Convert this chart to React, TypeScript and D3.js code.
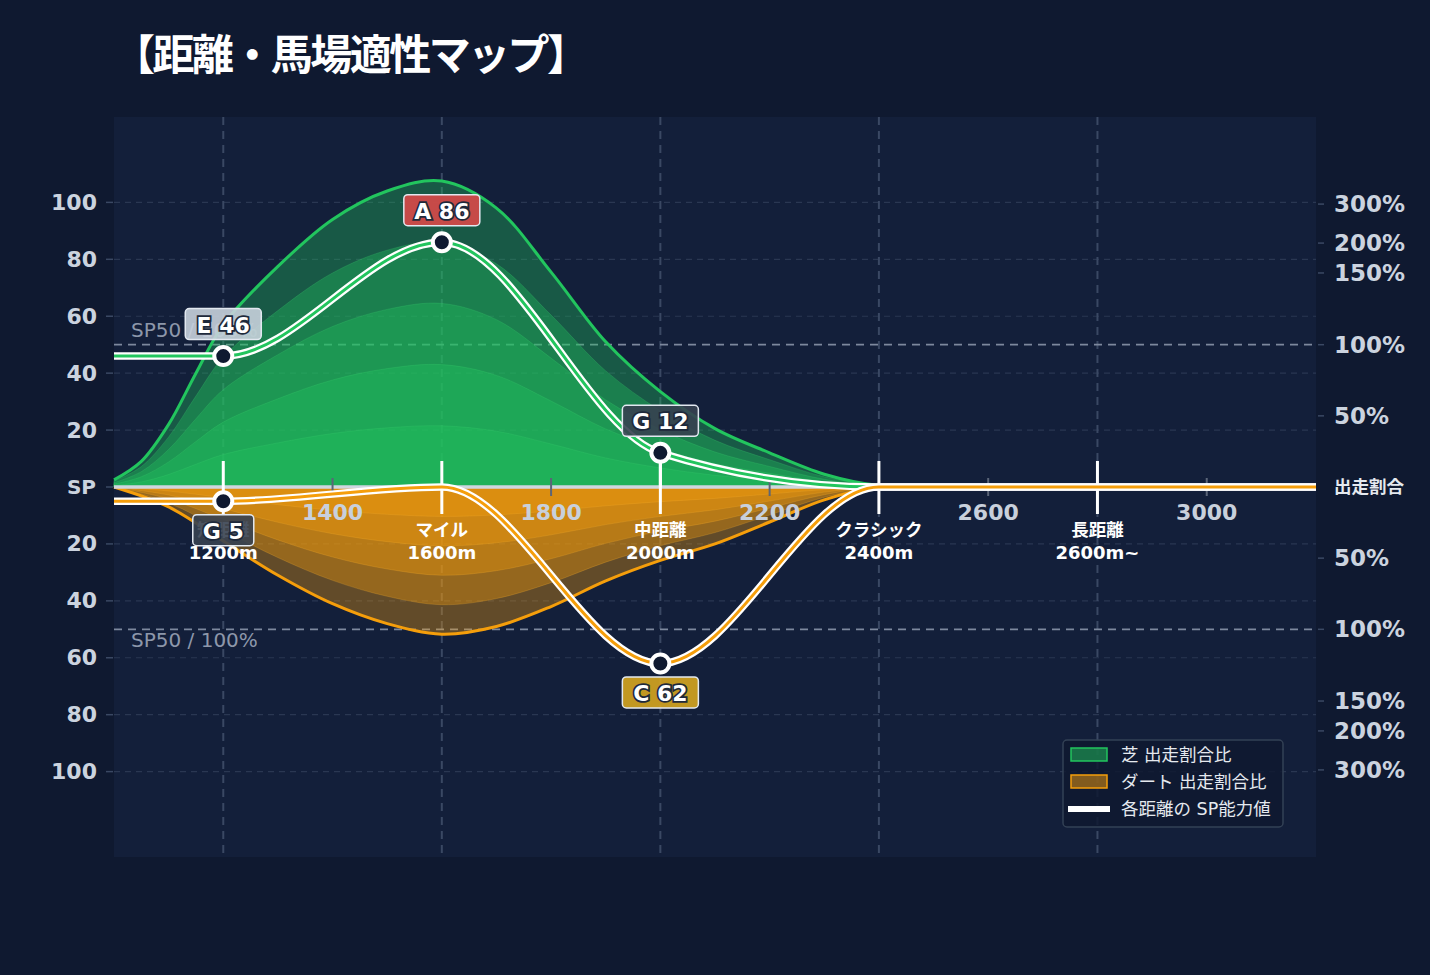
import * as d3 from 'd3';

// distance positions on the x scale (m) and readings of each curve
const turfDist = [1000, 1050, 1100, 1150, 1200, 1300, 1400, 1500, 1600, 1700, 1800, 1900, 2000, 2100, 2200, 2300, 2400, 2500, 3200];
const turfShare = [2.5, 9, 22, 40, 57, 77.5, 94, 104, 107.5, 98, 75.5, 51, 33.5, 20.5, 12, 4.5, 0.5, 0, 0];

const dirtDist = [1000, 1100, 1200, 1300, 1400, 1500, 1600, 1700, 1800, 1900, 2000, 2100, 2200, 2300, 2400, 2500, 3200];
const dirtShare = [0, 7, 19, 31, 41, 48, 51.7, 49, 42, 33, 25.8, 20, 12.3, 4.5, 0, 0, 0];

const spDist = [1000, 1200, 1600, 2000, 2400, 3200];
const turfSP = [46, 46, 86, 12, 0, 0];
const dirtSP = [5, 5, 0, 62, 0, 0];

const layerFractions = [1.0, 0.8, 0.6, 0.4, 0.2];

const categoryDist = [1200, 1600, 2000, 2400, 2800];
const categoryNames = ['短距離', 'マイル', '中距離', 'クラシック', '長距離'];
const categoryMeters = ['1200m', '1600m', '2000m', '2400m', '2600m~'];
const minorTicks = [1400, 1800, 2200, 2600, 3000];

const turfRanks = [
  { d: 1200, v: 46, rank: 'E' },
  { d: 1600, v: 86, rank: 'A' },
  { d: 2000, v: 12, rank: 'G' },
];
const dirtRanks = [
  { d: 1200, v: 5, rank: 'G' },
  { d: 2000, v: 62, rank: 'C' },
];

const spTicks = [20, 40, 60, 80, 100];
// share (%) -> SP units, the right axis is compressed above 100%
const pctDomain = [0, 50, 100, 150, 200, 300];
const pctRange = [0, 25, 50, 75.2, 85.7, 99.4];
const pctTicks = [50, 100, 150, 200, 300];

const rankColor: Record<string, string> = {
  A: '#d94848',
  C: '#d6a520',
  E: '#c8d0dc',
  G: '#374151',
};

const FONT = '"DejaVu Sans", "Noto Sans CJK JP", sans-serif';
const W = 1430;
const H = 975;
const margin = { top: 117, right: 114, bottom: 118, left: 114 };

export default function App() {
  const x = d3.scaleLinear().domain([1000, 3200]).range([margin.left, W - margin.right]);
  const y = d3.scaleLinear().domain([-130, 130]).range([H - margin.bottom, margin.top]);
  const pct = d3.scaleLinear().domain(pctDomain).range(pctRange);
  const y0 = y(0);
  const plotW = W - margin.left - margin.right;
  const plotH = H - margin.top - margin.bottom;

  // smooth share bands
  const area = d3
    .area<[number, number]>()
    .x((d) => x(d[0]))
    .y0(y0)
    .y1((d) => y(d[1]))
    .curve(d3.curveCatmullRom.alpha(0.5));
  const shareLine = d3
    .line<[number, number]>()
    .x((d) => x(d[0]))
    .y((d) => y(d[1]))
    .curve(d3.curveCatmullRom.alpha(0.5));
  const line = d3
    .line<[number, number]>()
    .x((d) => x(d[0]))
    .y((d) => y(d[1]))
    .curve(d3.curveMonotoneX);

  const turfPts = turfDist.map((d, i) => [d, turfShare[i]] as [number, number]);
  const dirtPts = dirtDist.map((d, i) => [d, -dirtShare[i]] as [number, number]);
  const turfSPPts = spDist.map((d, i) => [d, turfSP[i]] as [number, number]);
  const dirtSPPts = spDist.map((d, i) => [d, -dirtSP[i]] as [number, number]);

  const rankLabel = (r: { d: number; v: number; rank: string }, above: boolean, key: string) => {
    const cx = x(r.d);
    const cy = above ? y(r.v) - 32 : y(-r.v) + 29;
    const text = `${r.rank} ${r.v}`;
    const bw = text.length * 15 + 16;
    return (
      <g key={key}>
        <rect
          x={cx - bw / 2}
          y={cy - 15.5}
          width={bw}
          height={31}
          rx={4}
          fill={rankColor[r.rank]}
          fillOpacity={0.9}
          stroke="#e2e8f0"
          strokeWidth={1.5}
        />
        <text
          x={cx}
          y={cy + 1}
          textAnchor="middle"
          dominantBaseline="central"
          fontFamily={FONT}
          fontWeight="bold"
          fontSize={22}
          fill="#ffffff"
          stroke="#1e293b"
          strokeWidth={3.5}
          style={{ paintOrder: 'stroke' }}
        >
          {text}
        </text>
      </g>
    );
  };

  return (
    <svg
      width={W}
      height={H}
      style={{ position: 'absolute', left: 0, top: 0, display: 'block' }}
    >
      <rect width={W} height={H} fill="#0f1930" />
      <rect x={margin.left} y={margin.top} width={plotW} height={plotH} fill="#131f3a" />

      <text
        x={113}
        y={51}
        dominantBaseline="central"
        fontFamily='"Noto Sans CJK JP", sans-serif'
        fontWeight="bold"
        fontSize={42}
        textLength={476}
        lengthAdjust="spacing"
        fill="#ffffff"
      >
        【距離・馬場適性マップ】
      </text>

      {/* horizontal grid */}
      {spTicks.flatMap((t) => [t, -t]).map((t) => (
        <line
          key={`hg${t}`}
          x1={margin.left}
          x2={W - margin.right}
          y1={y(t)}
          y2={y(t)}
          stroke="#2a3752"
          strokeWidth={1.2}
          strokeDasharray="6 5"
        />
      ))}
      {/* vertical grid */}
      {categoryDist.map((d) => (
        <line
          key={`vg${d}`}
          x1={x(d)}
          x2={x(d)}
          y1={margin.top}
          y2={H - margin.bottom}
          stroke="#3a4863"
          strokeWidth={2}
          strokeDasharray="8 6"
        />
      ))}
      {/* SP50 lines */}
      {[50, -50].map((t) => (
        <line
          key={`sp${t}`}
          x1={margin.left}
          x2={W - margin.right}
          y1={y(t)}
          y2={y(t)}
          stroke="#7d889d"
          strokeWidth={1.8}
          strokeDasharray="8 6"
        />
      ))}
      {[50, -50].map((t) => (
        <text
          key={`spt${t}`}
          x={131}
          y={y(t) + (t > 0 ? -15 : 11)}
          dominantBaseline="central"
          fontFamily={FONT}
          fontSize={20}
          fill="#8d97aa"
        >
          SP50 / 100%
        </text>
      ))}

      {/* left axis */}
      {spTicks.flatMap((t) => [t, -t]).map((t) => (
        <g key={`la${t}`}>
          <line x1={106} x2={113} y1={y(t)} y2={y(t)} stroke="#3a4863" strokeWidth={1.5} />
          <text
            x={97}
            y={y(t)}
            textAnchor="end"
            dominantBaseline="central"
            fontFamily={FONT}
            fontWeight="bold"
            fontSize={22}
            fill="#cbd3df"
          >
            {Math.abs(t)}
          </text>
        </g>
      ))}
      <line x1={106} x2={113} y1={y0} y2={y0} stroke="#3a4863" strokeWidth={1.5} />
      <text
        x={96}
        y={y0}
        textAnchor="end"
        dominantBaseline="central"
        fontFamily={FONT}
        fontWeight="bold"
        fontSize={20}
        fill="#cbd3df"
      >
        SP
      </text>

      {/* right axis */}
      {pctTicks.flatMap((p) => [p, -p]).map((p) => {
        const yy = y(p > 0 ? pct(p) : -pct(-p));
        return (
          <g key={`ra${p}`}>
            <line x1={1318} x2={1324} y1={yy} y2={yy} stroke="#3a4863" strokeWidth={1.5} />
            <text
              x={1334}
              y={yy}
              dominantBaseline="central"
              fontFamily={FONT}
              fontWeight="bold"
              fontSize={23}
              fill="#cbd3df"
            >
              {`${Math.abs(p)}%`}
            </text>
          </g>
        );
      })}
      <text
        x={1334}
        y={y0}
        dominantBaseline="central"
        fontFamily={FONT}
        fontWeight="bold"
        fontSize={17.5}
        fill="#e5e9ef"
      >
        出走割合
      </text>

      {/* share layers */}
      {layerFractions.map((f) => (
        <path
          key={`dl${f}`}
          d={area(dirtPts.map(([d, v]) => [d, v * f] as [number, number])) || ''}
          fill="#f59e0b"
          fillOpacity={0.35}
          stroke="#f8b030"
          strokeOpacity={0.25}
          strokeWidth={1}
        />
      ))}
      {layerFractions.map((f) => (
        <path
          key={`tl${f}`}
          d={area(turfPts.map(([d, v]) => [d, v * f] as [number, number])) || ''}
          fill="#22c55e"
          fillOpacity={0.35}
          stroke="#3ad070"
          strokeOpacity={0.25}
          strokeWidth={1}
        />
      ))}
      <path d={shareLine(dirtPts) || ''} fill="none" stroke="#f59e0b" strokeWidth={3} />
      <path d={shareLine(turfPts) || ''} fill="none" stroke="#22c55e" strokeWidth={3} />

      {/* baseline */}
      <line x1={margin.left} x2={W - margin.right} y1={y0} y2={y0} stroke="#cfd6df" strokeWidth={3.5} />

      {/* minor distance ticks */}
      {minorTicks.map((d) => (
        <g key={`mt${d}`}>
          <line x1={x(d)} x2={x(d)} y1={y0 - 9} y2={y0 + 9} stroke="#5b6578" strokeWidth={2} />
          <text
            x={x(d)}
            y={y0 + 25}
            textAnchor="middle"
            dominantBaseline="central"
            fontFamily={FONT}
            fontWeight="bold"
            fontSize={22}
            fill="#c8d0dc"
          >
            {d}
          </text>
        </g>
      ))}

      {/* category ticks */}
      {categoryDist.map((d) => (
        <line key={`ct${d}`} x1={x(d)} x2={x(d)} y1={y0 - 26} y2={y0 + 27} stroke="#ffffff" strokeWidth={3} />
      ))}
      <line x1={x(2000)} x2={x(2000)} y1={y(12)} y2={y0} stroke="#ffffff" strokeWidth={3} />

      {/* SP lines */}
      <path d={line(turfSPPts) || ''} fill="none" stroke="#ffffff" strokeWidth={7.5} />
      <path d={line(turfSPPts) || ''} fill="none" stroke="#22c55e" strokeWidth={3} />
      <path d={line(dirtSPPts) || ''} fill="none" stroke="#ffffff" strokeWidth={7.5} />
      <path d={line(dirtSPPts) || ''} fill="none" stroke="#f59e0b" strokeWidth={3} />

      {/* category labels */}
      {categoryDist.map((d, i) => (
        <g key={`cl${d}`}>
          <text
            x={x(d)}
            y={y0 + 43}
            textAnchor="middle"
            dominantBaseline="central"
            fontFamily={FONT}
            fontWeight="bold"
            fontSize={17.5}
            fill="#ffffff"
          >
            {categoryNames[i]}
          </text>
          <text
            x={x(d)}
            y={y0 + 65}
            textAnchor="middle"
            dominantBaseline="central"
            fontFamily={FONT}
            fontWeight="bold"
            fontSize={18}
            fill="#ffffff"
          >
            {categoryMeters[i]}
          </text>
        </g>
      ))}

      {/* markers */}
      {turfRanks.map((r) => (
        <circle key={`tm${r.d}`} cx={x(r.d)} cy={y(r.v)} r={9} fill="#0f1930" stroke="#ffffff" strokeWidth={4} />
      ))}
      {dirtRanks.map((r) => (
        <circle key={`dm${r.d}`} cx={x(r.d)} cy={y(-r.v)} r={9} fill="#0f1930" stroke="#ffffff" strokeWidth={4} />
      ))}
      {turfRanks.map((r) => rankLabel(r, true, `tr${r.d}`))}
      {dirtRanks.map((r) => rankLabel(r, false, `dr${r.d}`))}

      {/* legend */}
      <g transform="translate(1063, 740)">
        <rect width={220} height={87} rx={4} fill="#0f1930" fillOpacity={0.85} stroke="#334155" strokeWidth={1.5} />
        <rect x={8} y={8} width={36} height={13} fill="#22c55e" fillOpacity={0.5} stroke="#22c55e" strokeWidth={1.5} />
        <text x={58} y={15} dominantBaseline="central" fontFamily={FONT} fontSize={17.5} fill="#e5e9ef">
          芝 出走割合比
        </text>
        <rect x={8} y={35} width={36} height={13} fill="#f59e0b" fillOpacity={0.5} stroke="#f59e0b" strokeWidth={1.5} />
        <text x={58} y={42} dominantBaseline="central" fontFamily={FONT} fontSize={17.5} fill="#e5e9ef">
          ダート 出走割合比
        </text>
        <line x1={5} x2={47} y1={69} y2={69} stroke="#ffffff" strokeWidth={6} />
        <text x={58} y={69} dominantBaseline="central" fontFamily={FONT} fontSize={17.5} fill="#e5e9ef">
          各距離の SP能力値
        </text>
      </g>
    </svg>
  );
}
